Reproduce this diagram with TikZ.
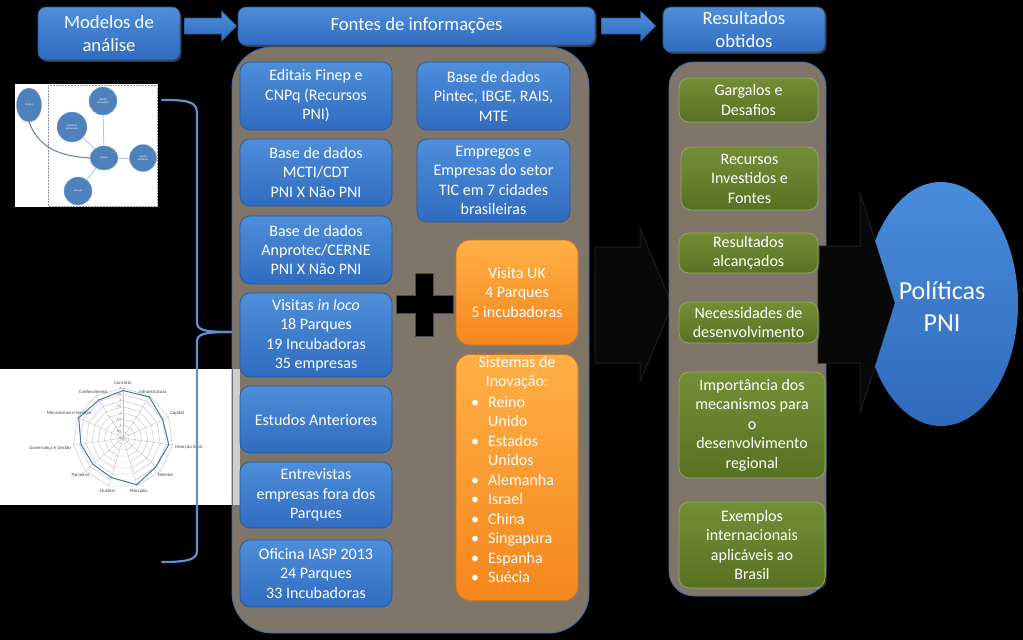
\documentclass[tikz,border=0pt]{standalone}
\usepackage{fontspec}
\setmainfont{Carlito}
\usetikzlibrary{calc,shadows,shapes.geometric}
\definecolor{bluetop}{RGB}{78,142,218}
\definecolor{bluebot}{RGB}{48,108,192}
\definecolor{blueedge}{RGB}{40,86,150}
\definecolor{orgtop}{RGB}{255,176,70}
\definecolor{orgbot}{RGB}{244,134,28}
\definecolor{orgedge}{RGB}{205,115,35}
\definecolor{grntop}{RGB}{116,142,54}
\definecolor{grnbot}{RGB}{88,114,36}
\definecolor{grnedge}{RGB}{145,172,88}
\definecolor{panelcol}{RGB}{127,117,105}
\definecolor{paneledge}{RGB}{70,110,170}
\definecolor{thumbblue}{RGB}{79,129,189}
\definecolor{bracecol}{RGB}{95,145,210}
\definecolor{darkarrow}{RGB}{8,8,8}
\definecolor{darkedge}{RGB}{30,30,30}
\definecolor{curvecol}{RGB}{100,125,160}
\definecolor{radarblue}{RGB}{70,115,180}
\definecolor{poltop}{RGB}{72,140,220}
\definecolor{polbot}{RGB}{48,106,186}
\newcommand{\myboxfont}{\fontsize{16}{19.5}\selectfont}
\newcommand{\myheadfont}{\fontsize{18.7}{23}\selectfont}
\begin{document}
\begin{tikzpicture}[x=1pt,y=-1pt,
  bluebox/.style={rounded corners=10pt, draw=blueedge, line width=0.7pt,
    top color=bluetop, bottom color=bluebot, text=white, align=center,
    font=\myboxfont, inner sep=2pt,
    drop shadow={shadow xshift=1.5pt, shadow yshift=-2pt, opacity=0.45}},
  headbox/.style={bluebox, font=\myheadfont, rounded corners=8pt},
  orangebox/.style={bluebox, draw=orgedge, top color=orgtop, bottom color=orgbot, rounded corners=14pt},
  greenbox/.style={bluebox, draw=grnedge, top color=grntop, bottom color=grnbot},
  panelbox/.style={draw=paneledge, line width=0.9pt, fill=panelcol},
  blockarrow/.style={top color=bluetop, bottom color=bluebot, draw=blueedge, line width=0.6pt},
  darkarr/.style={fill=darkarrow, draw=darkedge, line width=1pt},
  plaintext/.style={text=white, font=\myboxfont, inner sep=0pt},
  tcirc/.style={fill=thumbblue, draw=thumbblue!70!white, line width=0.4pt, text=white,
    font=\fontsize{2.6}{3}\selectfont, align=center, inner sep=0pt},
  lightline/.style={draw=thumbblue!45!white, line width=0.8pt},
  darkline/.style={draw=curvecol, line width=1pt},
  radargrid/.style={draw=black!25, line width=0.4pt},
  radarline/.style={draw=radarblue, line width=1pt},
  radarlab/.style={text=black!75, font=\fontsize{4.8}{5.5}\selectfont, inner sep=0.8pt},
  radartick/.style={text=black!65, font=\fontsize{3.6}{4}\selectfont, inner sep=0.5pt}
]
\useasboundingbox (0,0) rectangle (1023,640);
\fill[black] (0,0) rectangle (1023,640);

% ---------- network thumbnail ----------
\fill[white] (15,84) rectangle (158,207);
\draw[black!40, densely dotted, line width=0.5pt] (48,85) rectangle (157,206);
\node[tcirc, ellipse, minimum width=25pt, minimum height=34pt] (pol) at (29,105) {Política};
\node[tcirc, circle, minimum size=28pt] (gtec) at (103,101) {Gestão\\tecnológica};
\node[tcirc, circle, minimum size=30pt] (amb) at (72,127) {Ambiente\\institucional};
\node[tcirc, ellipse, minimum width=28pt, minimum height=24pt] (parque) at (104,158) {Parque};
\node[tcirc, circle, minimum size=27pt] (gamb) at (143,158) {Gestão\\ambiental};
\node[tcirc, circle, minimum size=28pt] (pess) at (78,191) {Pessoas};
\draw[lightline] (parque) -- (gtec);
\draw[lightline] (parque) -- (amb);
\draw[lightline] (parque) -- (gamb);
\draw[lightline] (parque) -- (pess);
\draw[darkline] (pol.south) .. controls (40,150) and (62,156) .. (parque.west);

% ---------- radar thumbnail ----------
\fill[white] (0,369) rectangle (240,505);
\begin{scope}[shift={(123,438)}]
  \foreach \r in {1,...,8}
    \draw[radargrid] plot[samples at={0,...,11}] ({\x*32.7273-90}:{\r*6.25});
  \foreach \k in {0,...,10}
    \draw[radargrid] (0,0) -- ({\k*32.7273-90}:50);
  \foreach \lab/\v [count=\k from 0, evaluate=\k as \an using {mod(630-\k*32.7273,360)}] in
    {Conceito/3.8, Infraestrutura/3.9, Capital/3.5, Inserção local/3.7, Talentos/3.5,
     Mercado/3.9, Clusters/3.3, Parceiros/3.2, Governança e Gestão/3.4,
     Mecanismos e serviços/3.9, Conhecimento/3.6}
  {
    \coordinate (d\k) at ({\k*32.7273-90}:{\v*12.5});
    \node[radarlab, anchor=\an] (rl\k) at ({\k*32.7273-90}:52) {\lab};
  }
  \draw[radarline] (d0) -- (d1) -- (d2) -- (d3) -- (d4) -- (d5) -- (d6) -- (d7) -- (d8) -- (d9) -- (d10) -- cycle;
  \foreach \v/\t in {0/0, 1/{0,5}, 2/1, 3/{1,5}, 4/2, 5/{2,5}, 6/3, 7/{3,5}, 8/4}
    \node[radartick, anchor=east] (tk\v) at (-1,{-\v*6.25}) {\t};
\end{scope}

% ---------- brace ----------
\draw[bracecol, line width=2.2pt, line cap=round]
  (162,100) .. controls (186,100) and (197,101) .. (197,113) -- (197,322)
  .. controls (197,330) and (203,332) .. (232,332);
\draw[bracecol, line width=2.2pt, line cap=round]
  (232,332) .. controls (203,332) and (197,334) .. (197,342) -- (197,551)
  .. controls (197,560) and (186,562) .. (162,562);

% ---------- dark arrow between panels ----------
\path[darkarr] (595,247) -- (640,247) -- (640,228) -- (672,305) -- (640,382) -- (640,363) -- (595,363) -- cycle;

% ---------- panels ----------
\path[panelbox, rounded corners=40pt] (232,47) rectangle (589,633);
\fill[panelcol!35!white] (233,369) rectangle (240,505);
\path[panelbox, rounded corners=25pt] (669,62) rectangle (826,596);

% ---------- dark arrow to Politicas ----------
\path[darkarr] (818,246) -- (860,246) -- (860,193) -- (895,303) -- (860,413) -- (860,363) -- (818,363) -- cycle;

% ---------- headers ----------
\node[headbox, minimum width=142pt, minimum height=53pt] (modelos) at (109,33.5) {Modelos de\\análise};
\node[headbox, minimum width=357pt, minimum height=38pt] (fontes) at (416.5,26) {Fontes de informações};
\node[headbox, minimum width=162pt, minimum height=45pt] (result) at (744,29.5) {Resultados\\obtidos};

\coordinate (ar1a) at ($(modelos.east |- fontes.center)+(4,0)$);
\coordinate (ar1b) at ($(fontes.west)+(-1,0)$);
\path[blockarrow] ($(ar1a)+(0,-8)$) -- ($(ar1b)+(-15,-8)$) -- ($(ar1b)+(-15,-15)$) -- (ar1b)
  -- ($(ar1b)+(-15,15)$) -- ($(ar1b)+(-15,8)$) -- ($(ar1a)+(0,8)$) -- cycle;
\coordinate (ar2a) at ($(fontes.east)+(6,0)$);
\coordinate (ar2b) at ($(result.west |- fontes.east)+(-7,0)$);
\path[blockarrow] ($(ar2a)+(0,-8)$) -- ($(ar2b)+(-15,-8)$) -- ($(ar2b)+(-15,-15)$) -- (ar2b)
  -- ($(ar2b)+(-15,15)$) -- ($(ar2b)+(-15,8)$) -- ($(ar2a)+(0,8)$) -- cycle;

% ---------- left blue column ----------
\node[bluebox, minimum width=152pt, minimum height=68pt] (editais) at (316,96) {Editais Finep e\\CNPq (Recursos\\PNI)};
\node[bluebox, minimum width=152pt, minimum height=67pt] (mcti) at (316,172.5) {Base de dados\\MCTI/CDT\\PNI X Não PNI};
\node[bluebox, minimum width=152pt, minimum height=68pt] (anpro) at (316,250) {Base de dados\\Anprotec/CERNE\\PNI X Não PNI};
\node[bluebox, minimum width=152pt, minimum height=84pt] (visitas) at (316,335) {Visitas \textit{in loco}\\18 Parques\\19 Incubadoras\\35 empresas};
\node[bluebox, minimum width=152pt, minimum height=67pt] (estudos) at (316,419.5) {Estudos Anteriores};
\node[bluebox, minimum width=152pt, minimum height=66pt] (entrev) at (316,495) {Entrevistas\\empresas fora dos\\Parques};
\node[bluebox, minimum width=152pt, minimum height=67pt] (oficina) at (316,573.5) {Oficina IASP 2013\\24 Parques\\33 Incubadoras};

% ---------- right blue column ----------
\node[bluebox, minimum width=153pt, minimum height=68pt] (pintec) at (493.5,96) {Base de dados\\Pintec, IBGE, RAIS,\\MTE};
\node[bluebox, minimum width=153pt, minimum height=83pt] (empregos) at (493.5,180.5) {Empregos e\\Empresas do setor\\TIC em 7 cidades\\brasileiras};

% ---------- orange ----------
\node[orangebox, minimum width=122pt, minimum height=105pt] (visuk) at (517,292.5) {Visita UK\\4 Parques\\5 incubadoras};
\node[orangebox, minimum width=122pt, minimum height=246pt] (sistemas) at (517,477.5) {};
\node[plaintext, align=center] (sistitle) at (517,373) {Sistemas de\\Inovação:};
\node[plaintext, align=left, anchor=west] (sislist) at (471,489.5)
  {\makebox[17pt][l]{•}Reino\\\hspace*{17pt}Unido\\\makebox[17pt][l]{•}Estados\\\hspace*{17pt}Unidos\\
   \makebox[17pt][l]{•}Alemanha\\\makebox[17pt][l]{•}Israel\\\makebox[17pt][l]{•}China\\
   \makebox[17pt][l]{•}Singapura\\\makebox[17pt][l]{•}Espanha\\\makebox[17pt][l]{•}Suécia};

% ---------- plus sign ----------
\path[fill=black, draw=black!70, line width=0.8pt]
  (415,273) -- (433,273) -- (433,295) -- (453,295) -- (453,313) -- (433,313) -- (433,336)
  -- (415,336) -- (415,313) -- (396,313) -- (396,295) -- (415,295) -- cycle;

% ---------- green column ----------
\node[greenbox, minimum width=139pt, minimum height=44pt] (garg) at (748.5,100) {Gargalos e\\Desafios};
\node[greenbox, minimum width=137pt, minimum height=63pt] (recur) at (749.5,178.5) {Recursos\\Investidos e\\Fontes};
\node[greenbox, minimum width=139pt, minimum height=40pt] (alcan) at (748.5,253) {Resultados\\alcançados};
\node[greenbox, minimum width=139pt, minimum height=41pt] (neces) at (748.5,322.5) {Necessidades de\\desenvolvimento};
\node[greenbox, minimum width=146pt, minimum height=106pt] (import) at (752,425) {Importância dos\\mecanismos para\\o\\desenvolvimento\\regional};
\node[greenbox, minimum width=146pt, minimum height=86pt] (exemp) at (752,545) {Exemplos\\internacionais\\aplicáveis ao\\Brasil};

% ---------- Politicas PNI ----------
\begin{scope}
  \clip (858,170) -- (1023,170) -- (1023,440) -- (858,440) -- (875,367) -- (895,303) -- (875,240) -- cycle;
  \shade[top color=poltop, bottom color=polbot]
    (941,304) ellipse [x radius=77, y radius=122];
\end{scope}
\node[plaintext, align=center, font=\fontsize{26}{32}\selectfont] (politicas) at (942,306) {Políticas\\PNI};
\end{tikzpicture}
\end{document}
